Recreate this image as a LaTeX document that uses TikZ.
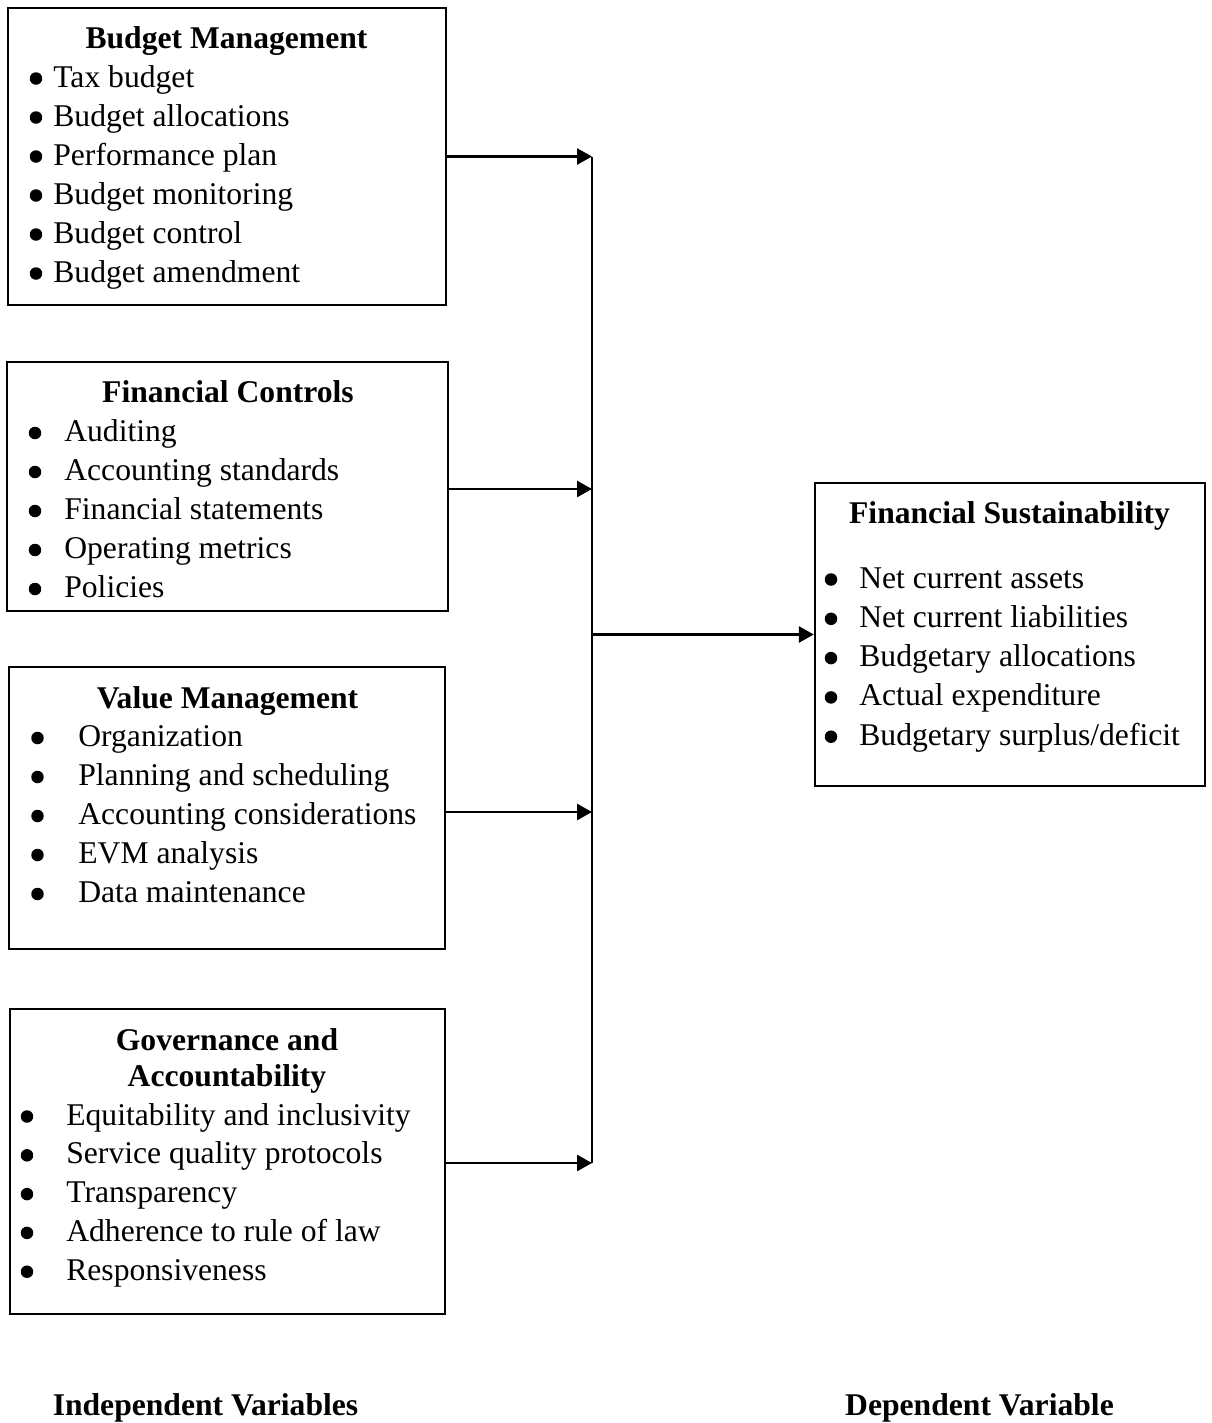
\documentclass[tikz,border=0pt]{standalone}
\usepackage{fontspec}
\setmainfont{Liberation Serif}
\usetikzlibrary{arrows.meta}
\tikzset{
    varbox/.style={draw, line width=1.4pt, inner sep=0pt},
    boxtitle/.style={anchor=base, inner sep=0pt, font=\fontsize{18}{22}\selectfont\bfseries},
    boxitem/.style={anchor=base west, inner sep=0pt, font=\fontsize{18}{22}\selectfont},
    bulletmark/.style={circle, fill, inner sep=0pt, minimum size=0.25cm, yshift=0.17cm},
    flow/.style={line width=1.5pt, -{Triangle[length=0.3cm, width=0.32cm]}}
}
\begin{document}
\begin{tikzpicture}[x=0.02cm, y=-0.02cm]
                \useasboundingbox (0,0) rectangle (1211,1423);
                \node[varbox, minimum width=8.76cm, minimum height=5.94cm] (budget) at (227,156.5) {};
                \node[varbox, minimum width=8.82cm, minimum height=4.98cm] (controls) at (227.5,486.5) {};
                \node[varbox, minimum width=8.72cm, minimum height=5.64cm] (value) at (227,808) {};
                \node[varbox, minimum width=8.70cm, minimum height=6.10cm] (governance) at (227.5,1161.5) {};
                \node[varbox, minimum width=7.80cm, minimum height=6.06cm] (sustain) at (1010,634.5) {};
                \node[boxtitle] (budget-title) at (226.5,48) {Budget Management};
                \node[boxtitle] (controls-title) at (228,402) {Financial Controls};
                \node[boxtitle] (value-title) at (227.5,708) {Value Management};
                \node[boxtitle] (governance-title1) at (227,1050) {Governance and};
                \node[boxtitle] (governance-title2) at (227,1086) {Accountability};
                \node[boxtitle] (sustain-title) at (1009.5,523) {Financial Sustainability};
                \foreach \txt [count=\i from 0] in {Tax budget, Budget allocations, Performance plan, Budget monitoring, Budget control, Budget amendment} {
                    \node[bulletmark] (budget-b\i) at (36,{87+39*\i}) {};
                    \node[boxitem] (budget-t\i) at (53,{87+39*\i}) {\txt};
                }
                \foreach \txt [count=\i from 0] in {Auditing, Accounting standards, Financial statements, Operating metrics, Policies} {
                    \node[bulletmark] (controls-b\i) at (35,{441.5+39*\i}) {};
                    \node[boxitem] (controls-t\i) at (64,{441.5+39*\i}) {\txt};
                }
                \foreach \txt [count=\i from 0] in {Organization, Planning and scheduling, Accounting considerations, EVM analysis, Data maintenance} {
                    \node[bulletmark] (value-b\i) at (37.5,{746.5+39*\i}) {};
                    \node[boxitem] (value-t\i) at (78,{746.5+39*\i}) {\txt};
                }
                \foreach \txt [count=\i from 0] in {Equitability and inclusivity, Service quality protocols, Transparency, Adherence to rule of law, Responsiveness} {
                    \node[bulletmark] (governance-b\i) at (27,{1125+38.8*\i}) {};
                    \node[boxitem] (governance-t\i) at (66,{1125+38.8*\i}) {\txt};
                }
                \foreach \txt [count=\i from 0] in {Net current assets, Net current liabilities, Budgetary allocations, Actual expenditure, Budgetary surplus/deficit} {
                    \node[bulletmark] (sustain-b\i) at (831,{588+39.3*\i}) {};
                    \node[boxitem] (sustain-t\i) at (859,{588+39.3*\i}) {\txt};
                }
                \node[boxtitle] (indep) at (205.5,1415) {Independent Variables};
                \node[boxtitle] (dep) at (979.5,1415) {Dependent Variable};
                \coordinate (bustop) at (592,157);
                \coordinate (busbot) at (592,1163);
                \draw[line width=1.5pt] (bustop) -- (busbot);
                \draw[flow] (budget.east) -- (budget.east -| bustop);
                \draw[flow] ([yshift=-0.05cm]controls.east) -- ([yshift=-0.05cm]controls.east -| bustop);
                \draw[flow] ([yshift=-0.08cm]value.east) -- ([yshift=-0.08cm]value.east -| bustop);
                \draw[flow] ([yshift=-0.03cm]governance.east) -- ([yshift=-0.03cm]governance.east -| bustop);
                \draw[flow] (bustop |- sustain.west) -- (sustain.west);
\end{tikzpicture}
\end{document}
